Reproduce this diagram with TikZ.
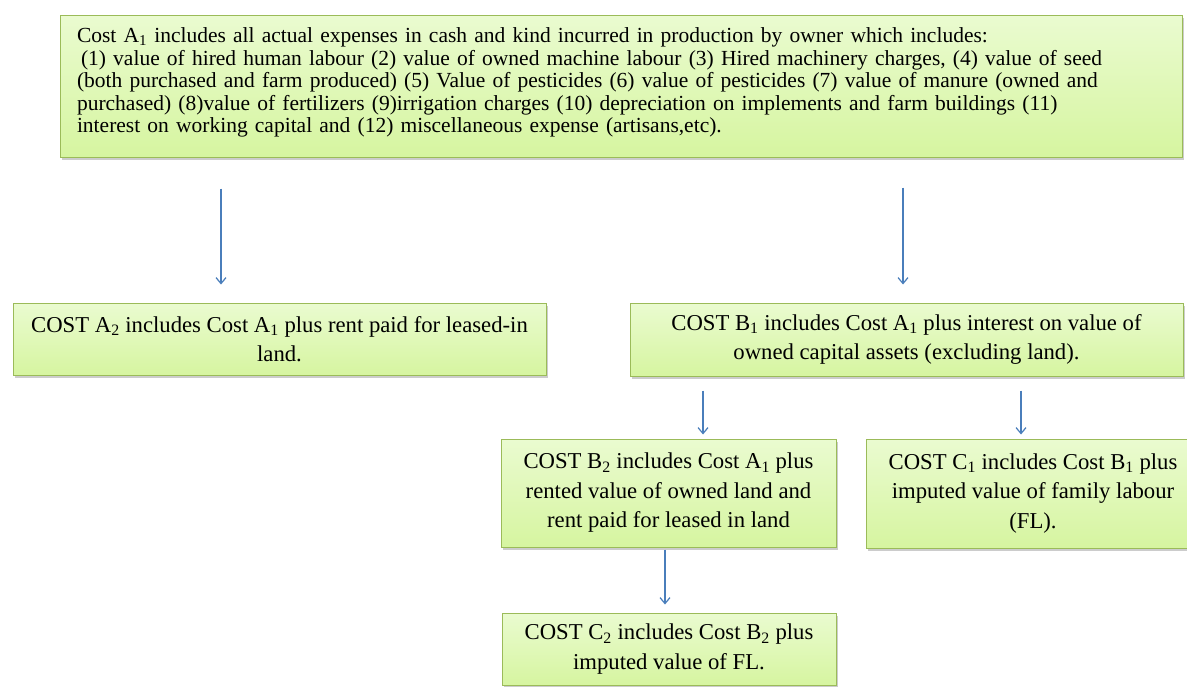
\documentclass[tikz,border=0pt]{standalone}
\usepackage{fontspec}
\setmainfont{Liberation Serif}
\usetikzlibrary{arrows.meta,shadows}
\definecolor{bordergreen}{HTML}{9BBB59}
\definecolor{gtop}{HTML}{EAFBD0}
\definecolor{gbot}{HTML}{D6F5A0}
\definecolor{arrblue}{HTML}{4A7EBB}
\newcommand{\sub}[1]{\textsubscript{#1}}
\begin{document}
\begin{tikzpicture}[x=1pt,y=-1pt,
  box/.style={draw=bordergreen, line width=1pt, top color=gtop, bottom color=gbot,
    drop shadow={shadow xshift=2pt, shadow yshift=-3pt, fill=black!40},
    inner sep=0pt, align=center, font=\fontsize{22.7}{29.5}\selectfont},
  topbox/.style={box, align=left, text width=1088pt, inner xsep=17pt,
    font=\fontsize{21.5}{22.5}\selectfont},
  arr/.style={draw=arrblue, line width=1.2pt, -{Straight Barb[length=6pt,width=10pt]}}]
\useasboundingbox (0,0) rectangle (1187,686);

\node[topbox, minimum height=142pt] (top) at (621,86) {Cost A\sub{1} includes all actual expenses in cash and kind incurred in production by owner which includes:\\
\hspace*{4pt}(1) value of hired human labour (2) value of owned machine labour (3) Hired machinery charges, (4) value of seed\\
(both purchased and farm produced) (5) Value of pesticides (6) value of pesticides (7) value of manure (owned and\\
purchased) (8)value of fertilizers (9)irrigation charges (10) depreciation on implements and farm buildings (11)\\
interest on working capital and (12) miscellaneous expense (artisans,etc).\\[-11pt]\mbox{}};

\node[box, minimum width=533pt, minimum height=72pt] (a2) at (279.5,339) {COST A\sub{2} includes Cost A\sub{1} plus rent paid for leased-in\\land.};
\node[box, minimum width=553pt, minimum height=73pt] (b1) at (906.5,339.5) {COST B\sub{1} includes Cost A\sub{1} plus interest on value of\\owned capital assets (excluding land).};
\node[box, minimum width=335pt, minimum height=108pt] (b2) at (668.5,493) {COST B\sub{2} includes Cost A\sub{1} plus\\rented value of owned land and\\rent paid for leased in land};
\node[box, minimum width=334pt, minimum height=109pt] (c1) at (1033,493.5) {COST C\sub{1} includes Cost B\sub{1} plus\\imputed value of family labour\\(FL).};
\node[box, minimum width=334pt, minimum height=72pt] (c2) at (669,649) {COST C\sub{2} includes Cost B\sub{2} plus\\imputed value of FL.};

\coordinate (xa) at (221,0);
\coordinate (xb) at (903,0);
\coordinate (xc) at (703,0);
\coordinate (xd) at (1021,0);
\coordinate (xe) at (665,0);
\draw[arr, shorten <=31pt, shorten >=18pt] (top.south -| xa) -- (a2.north -| xa);
\draw[arr, shorten <=30pt, shorten >=18pt] (top.south -| xb) -- (b1.north -| xb);
\draw[arr, shorten <=14pt, shorten >=4pt] (b1.south -| xc) -- (b2.north -| xc);
\draw[arr, shorten <=14pt, shorten >=4pt] (b1.south -| xd) -- (c1.north -| xd);
\draw[arr, shorten <=2pt, shorten >=8pt] (b2.south -| xe) -- (c2.north -| xe);
\end{tikzpicture}
\end{document}
